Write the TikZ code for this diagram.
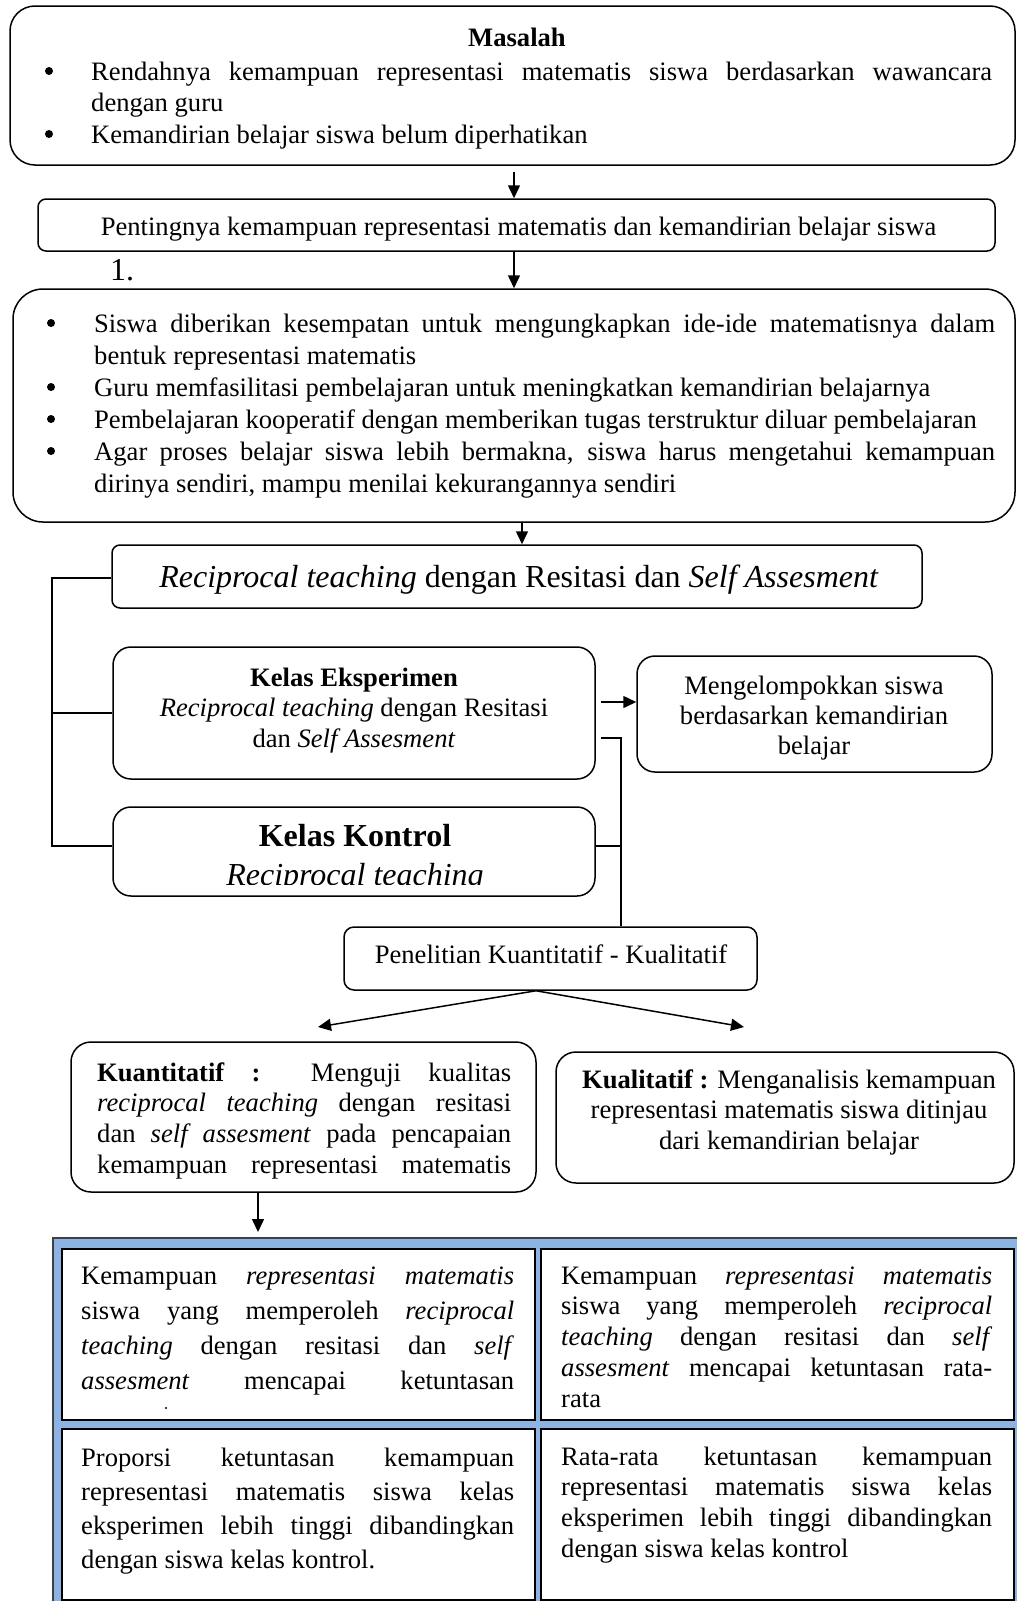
\documentclass[tikz,border=0pt]{standalone}
\usepackage{fontspec}
\setmainfont{Liberation Serif}
\usetikzlibrary{arrows.meta,calc}
\definecolor{panelblue}{HTML}{8DB3E2}
\definecolor{panelline}{HTML}{404040}
\newcommand\JL[2]{\hbox to #1pt{\spaceskip=.25em plus 1fil minus .08em\relax #2}}
\newcommand\LL[2]{\hbox to #1pt{#2\hfil}}
\newcommand\CL[2]{\hbox to #1pt{\hfil #2\hfil}}
\newcommand\TB[2]{\vtop{\baselineskip=#1pt\lineskiplimit=-100pt\lineskip=0pt #2}}
\newcommand\fnorm{\fontsize{26.6}{32}\selectfont}
\newcommand\fbig{\fontsize{32}{38}\selectfont}
\begin{document}
\begin{tikzpicture}[x=1pt, y=-1pt, font=\fnorm,
  rbox/.style={draw=black, line width=1.5pt, inner sep=0pt},
  conn/.style={line width=1.5pt},
  arr/.style={conn, -{Triangle[length=13pt,width=12pt]}},
  txt/.style={anchor=base west, inner sep=0pt},
  ctr/.style={anchor=base, inner sep=0pt},
  bul/.style={circle, fill=black, inner sep=0pt, minimum size=8pt},
  cell/.style={draw=black, line width=2pt, fill=white, inner sep=0pt, anchor=north west, minimum width=473pt, minimum height=171pt}]
\useasboundingbox (0,0) rectangle (1017,1601);

% boxes
\node[rbox, rounded corners=25pt, minimum width=1005pt, minimum height=159pt] (b1) at (512.5,85.5) {};
\node[rbox, rounded corners=8pt, minimum width=957pt, minimum height=52pt] (b2) at (516.5,225) {};
\node[rbox, rounded corners=30pt, minimum width=1002pt, minimum height=233pt] (b3) at (514,405.5) {};
\node[rbox, rounded corners=8pt, minimum width=810pt, minimum height=63pt] (b4) at (517,576.5) {};
\node[rbox, rounded corners=18pt, minimum width=482pt, minimum height=132pt] (b5) at (354,713) {};
\node[rbox, rounded corners=18pt, minimum width=482pt, minimum height=89pt] (b6) at (354,851.5) {};
\node[rbox, rounded corners=18pt, minimum width=355pt, minimum height=116pt] (b7) at (814.5,714) {};
\node[rbox, rounded corners=10pt, minimum width=413pt, minimum height=63pt] (b8) at (550.5,958.5) {};
\node[rbox, rounded corners=20pt, minimum width=465pt, minimum height=150pt] (b9) at (303.5,1117) {};
\node[rbox, rounded corners=20pt, minimum width=458pt, minimum height=131pt] (b10) at (785,1117.5) {};

% panel
\node[draw=panelline, line width=1.5pt, fill=panelblue, minimum width=967pt, minimum height=373pt, inner sep=0pt, anchor=north west] (panel) at (52,1237) {};
\node[cell] (c1) at (61,1248) {};
\node[cell] (c2) at (540,1248) {};
\node[cell] (c3) at (61,1428) {};
\node[cell] (c4) at (540,1428) {};

% connectors
\coordinate (ax) at (514,0);
\draw[arr, shorten <=6pt] (b1.south -| ax) -- (b2.north -| ax);
\draw[arr] (b2.south -| ax) -- (b3.north -| ax);
\coordinate (ay) at (522,0);
\draw[arr] (b3.south -| ay) -- (b4.north -| ay);
\coordinate (lt) at (52,578);
\coordinate (lb) at (52,846);
\draw[conn] (b4.west |- lt) -- (lt) -- (lb) -- (b6.west |- lb);
\draw[conn] (b5.west) -- (b5.west -| lt);
\coordinate (rt) at (621,738);
\coordinate (rb) at (621,846);
\draw[conn] (b5.east |- rt) ++(5,0) -- (rt) -- (rt |- b8.north);
\draw[conn] (b6.east |- rb) -- (rb);
\coordinate (am) at (0,702);
\draw[arr] (b5.east |- am) ++(5,0) -- (b7.west |- am);
\coordinate (sp) at (536,0);
\coordinate (tl) at (318,1027);
\coordinate (tr) at (744,1027);
\draw[arr] (b8.south -| sp) -- (tl);
\draw[arr] (b8.south -| sp) -- (tr);
\coordinate (a9) at (258,0);
\draw[arr, shorten >=5pt] (b9.south -| a9) -- (panel.north -| a9);

% bullets
\node[bul] (u1a) at (49,71) {};
\node[bul] (u1b) at (49,134) {};
\node[bul] (u3a) at (51,323) {};
\node[bul] (u3b) at (51,387) {};
\node[bul] (u3c) at (51,419) {};
\node[bul] (u3d) at (51,451) {};

% texts
\node[ctr, font=\fnorm\bfseries] (t1h) at (517,46) {Masalah};
\node[txt] (t1) at (91,80) {\TB{31.5}{%
  \JL{901}{Rendahnya kemampuan representasi matematis siswa berdasarkan wawancara}%
  \LL{901}{dengan guru}%
  \LL{901}{Kemandirian belajar siswa belum diperhatikan}}};

\node[ctr] (t2) at (518.5,235) {Pentingnya kemampuan representasi matematis dan kemandirian belajar siswa};
\node[txt, font=\fbig] (n1) at (110,280) {1.};

\node[txt] (t3) at (94,332) {\TB{32}{%
  \JL{901}{Siswa diberikan kesempatan untuk mengungkapkan ide-ide matematisnya dalam}%
  \LL{901}{bentuk representasi matematis}%
  \LL{901}{Guru memfasilitasi pembelajaran untuk meningkatkan kemandirian belajarnya}%
  \LL{901}{Pembelajaran kooperatif dengan memberikan tugas terstruktur diluar pembelajaran}%
  \JL{901}{Agar proses belajar siswa lebih bermakna, siswa harus mengetahui kemampuan}%
  \LL{901}{dirinya sendiri, mampu menilai kekurangannya sendiri}}};

\node[ctr, font=\fbig] (t4) at (519,587) {\textit{Reciprocal teaching} dengan Resitasi dan \textit{Self Assesment}};

\node[ctr] (t5) at (354,686) {\TB{30.5}{%
  \CL{470}{\textbf{Kelas Eksperimen}}%
  \CL{470}{\textit{Reciprocal teaching} dengan Resitasi}%
  \CL{470}{dan \textit{Self Assesment}}}};

\begin{scope}
\clip (113,807) rectangle (595,884);
\node[ctr] (t6) at (355,846) {\TB{39}{%
  \CL{470}{\fbig\bfseries Kelas Kontrol}%
  \CL{470}{\fbig\itshape Reciprocal teaching}}};
\end{scope}

\node[ctr] (t7) at (814,694) {\TB{30}{%
  \CL{340}{Mengelompokkan siswa}%
  \CL{340}{berdasarkan kemandirian}%
  \CL{340}{belajar}}};

\node[ctr] (t8) at (551,963) {Penelitian Kuantitatif - Kualitatif};

\node[txt] (t9) at (97,1081) {\TB{30.7}{%
  \JL{414}{\textbf{Kuantitatif :} Menguji kualitas}%
  \JL{414}{\textit{reciprocal teaching} dengan resitasi}%
  \JL{414}{dan \textit{self assesment} pada pencapaian}%
  \JL{414}{kemampuan representasi matematis}}};

\node[ctr] (t10) at (789,1088) {\TB{30.5}{%
  \CL{440}{\textbf{Kualitatif :} Menganalisis kemampuan}%
  \CL{440}{representasi matematis siswa ditinjau}%
  \CL{440}{dari kemandirian belajar}}};

\node[txt] (tc1) at (81,1284) {\TB{35.3}{%
  \JL{433}{Kemampuan \textit{representasi matematis}}%
  \JL{433}{siswa yang memperoleh \textit{reciprocal}}%
  \JL{433}{\textit{teaching} dengan resitasi dan \textit{self}}%
  \JL{433}{\textit{assesment} mencapai ketuntasan}}};
\fill (166,1408) circle (1.2pt);

\node[txt] (tc2) at (561,1284) {\TB{30.8}{%
  \JL{431}{Kemampuan \textit{representasi matematis}}%
  \JL{431}{siswa yang memperoleh \textit{reciprocal}}%
  \JL{431}{\textit{teaching} dengan resitasi dan \textit{self}}%
  \JL{431}{\textit{assesment} mencapai ketuntasan rata-}%
  \LL{431}{rata}}};

\node[txt] (tc3) at (81,1466) {\TB{34.3}{%
  \JL{433}{Proporsi ketuntasan kemampuan}%
  \JL{433}{representasi matematis siswa kelas}%
  \JL{433}{eksperimen lebih tinggi dibandingkan}%
  \LL{433}{dengan siswa kelas kontrol.}}};

\node[txt] (tc4) at (561,1465) {\TB{30.7}{%
  \JL{431}{Rata-rata ketuntasan kemampuan}%
  \JL{431}{representasi matematis siswa kelas}%
  \JL{431}{eksperimen lebih tinggi dibandingkan}%
  \LL{431}{dengan siswa kelas kontrol}}};
\end{tikzpicture}
\end{document}
